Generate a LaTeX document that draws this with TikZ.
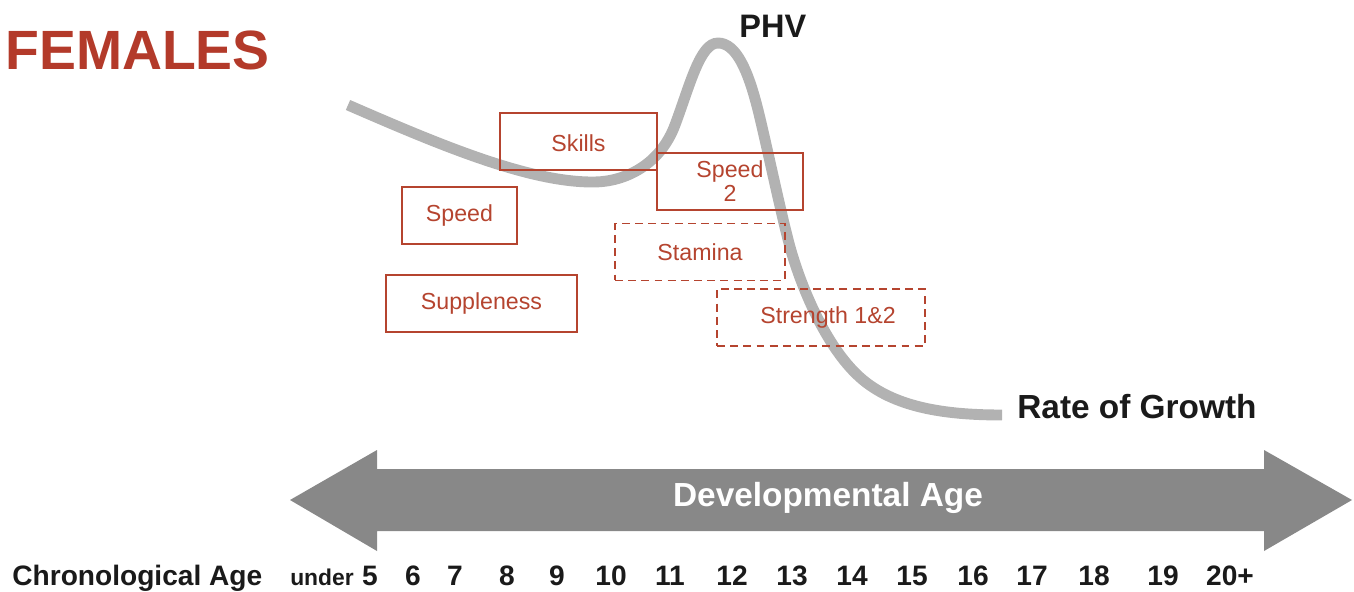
\documentclass[tikz,border=0pt]{standalone}
\usepackage{fontspec}
\setmainfont{Liberation Sans}
\usepackage{xcolor}
\usetikzlibrary{positioning}

\definecolor{femred}{HTML}{B33A2A}
\definecolor{boxred}{HTML}{B5442F}
\definecolor{growthgray}{HTML}{B2B2B2}
\definecolor{arrowgray}{HTML}{888888}
\definecolor{inkblack}{HTML}{1A1A1A}

\begin{document}
\begin{tikzpicture}[
  x=0.02cm, y=-0.02cm,
  phase/.style={draw=boxred, line width=0.85pt, text=boxred, align=center,
                inner sep=0pt, minimum height=1.14cm,
                font=\fontsize{13.2}{13.6}\selectfont},
  later/.style={phase, dash pattern=on 4.5pt off 3pt},
  heading/.style={inner sep=0pt, anchor=base west, text=inkblack,
                  font=\bfseries\fontsize{19}{19}\selectfont},
  agenum/.style={inner sep=0pt, anchor=base, text=inkblack,
                 font=\bfseries\fontsize{16}{16}\selectfont},
  growth/.style={draw=growthgray, line width=6.2pt}
]
  \useasboundingbox (0,0) rectangle (1354,591);

  % --- title ---------------------------------------------------------
  \node[inner sep=0pt, anchor=base west, text=femred,
        font=\bfseries\fontsize{31.5}{31.5}\selectfont] (females) at (5,70) {FEMALES};

  % --- growth curve ----------------------------------------------------
  \draw[growth] (348,105) .. controls (440,145) and (530,183) .. (595,182)
    .. controls (625,181.5) and (660,165) .. (675,125)
    .. controls (690,85) and (700,43) .. (718,43)
    .. controls (736,43) and (748,70) .. (758,110)
    .. controls (766,142) and (781,214) .. (790,247)
    .. controls (802,290) and (828,351) .. (863,380)
    .. controls (898,409) and (950,415) .. (1002,415);
  \node[heading, font=\bfseries\fontsize{18.5}{18.5}\selectfont] (phv) at (739,38) {PHV};
  \node[heading] (rate) at (1017,418) {Rate of Growth};

  % --- training windows ------------------------------------------------
  \node[phase, minimum width=3.14cm, text height=1.1em, text depth=0pt]
    (skills) at (578.5,141.5) {Skills};
  \node[phase, minimum width=2.92cm] (speedtwo) at (730,181.5) {Speed\\2};
  \node[phase, minimum width=2.30cm] (speed) at (459.5,215.5) {Speed};
  \node[later, minimum width=3.40cm] (stamina) at (700,252) {Stamina};
  \node[phase, minimum width=3.82cm] (supple) at (481.5,303.5) {Suppleness};
  \node[later, minimum width=4.16cm] (strength) at (821,317.5) {\hspace*{8pt}Strength 1\&2};

  % --- developmental age arrow -----------------------------------------
  \fill[arrowgray] (290,500) -- (377,450) -- (377,469) -- (1264,469) -- (1264,450)
    -- (1352,500) -- (1264,551) -- (1264,531) -- (377,531) -- (377,551) -- cycle;
  \node[text=white, inner sep=0pt, font=\bfseries\fontsize{19}{19}\selectfont]
    (devage) at (828,498) {Developmental Age};

  % --- chronological age scale -----------------------------------------
  \node[agenum, anchor=base west] (chrono) at (12,585) {Chronological Age};
  \node[agenum, font=\bfseries\fontsize{13}{13}\selectfont] (under) at (322,585) {under};
  \foreach \x/\age [count=\i] in {370/5, 413/6, 455/7, 507/8, 557/9, 611/10,
      670/11, 732/12, 792/13, 852/14, 912/15, 973/16, 1032/17, 1094/18,
      1163/19, 1230/20+}
    \node[agenum] (age\i) at (\x,585) {\age};
\end{tikzpicture}
\end{document}
